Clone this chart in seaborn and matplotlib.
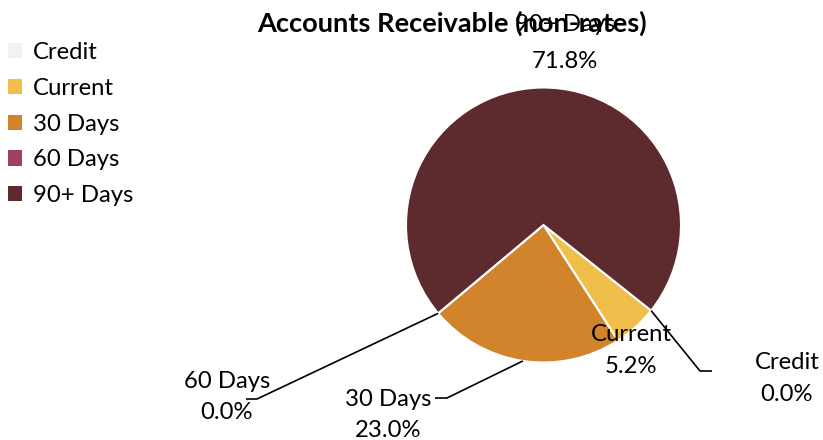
import matplotlib
matplotlib.use("Agg")
import matplotlib.pyplot as plt
import seaborn as sns
import numpy as np
from matplotlib.patches import Patch

# ---- data ----
categories = ["Credit", "Current", "30 Days", "60 Days", "90+ Days"]
values = [0.0, 5.2, 23.0, 0.0, 71.8]
colors = ["#F2F2F2", "#F0BE4B", "#D2842D", "#A0405A", "#5D2A2D"]
title = "Accounts Receivable (non-rates)"

sns.set_theme(style="white")
plt.rcParams['font.family'] = ['Lato', 'DejaVu Sans']
plt.rcParams['text.color'] = 'black'

W, H = 823, 440
fig = plt.figure(figsize=(W / 100, H / 100), dpi=100)
ax = fig.add_axes([0, 0, 1, 1])

cx, cy, r = 543.5, H - 225, 137.5
wedges, _ = ax.pie(values, colors=colors, startangle=-38.5, counterclock=False,
                   center=(cx, cy), radius=r,
                   wedgeprops=dict(edgecolor="white", linewidth=1.5))
ax.set_xlim(0, W)
ax.set_ylim(0, H)
ax.set_aspect("equal")
ax.axis("off")

FS = 17.2
total = sum(values)
pct = [f"{v / total * 100:.1f}%" for v in values]

def edge_point(theta_deg):
    t = np.deg2rad(theta_deg)
    return cx + r * np.cos(t), cy + r * np.sin(t)

def mid(w):
    return (w.theta1 + w.theta2) / 2

# label specs: (index, x center, baseline y1 (from top), baseline y2, leader)
labels = [
    (4, 565, 31, 68, None),
    (1, 631, 341, 373, None),
    (0, 787, 369, 401, (wedges[0].theta1, (700, 371), (712, 371))),
    (3, 227, 388, 419, (wedges[3].theta1, (257, 399), (246, 399))),
    (2, 388, 406, 437, (mid(wedges[2]), (447, 398), (435, 398))),
]
for idx, x, b1, b2, lead in labels:
    ax.text(x, H - b1, categories[idx], ha="center", va="baseline", fontsize=FS, color="black")
    ax.text(x, H - b2, pct[idx], ha="center", va="baseline", fontsize=FS, color="black")
    if lead is not None:
        ang, elbow, end = lead
        p = edge_point(ang)
        ax.plot([p[0], elbow[0], end[0]], [p[1], H - elbow[1], H - end[1]],
                color="black", lw=1.2, solid_capstyle="butt")

ax.text(452, H - 32, title, ha="center", va="baseline", fontsize=19.6, fontweight="bold", color="black")

handles = [Patch(facecolor=c, edgecolor="none") for c in colors]
leg = ax.legend(handles, categories, loc="upper left", bbox_to_anchor=(8 / W, 1 - 42 / H),
                bbox_transform=fig.transFigure, frameon=False, fontsize=FS,
                handlelength=0.6, handleheight=0.6, handletextpad=0.45,
                labelspacing=0.62, borderpad=0, borderaxespad=0, labelcolor="black")

fig.savefig("out.png", dpi=100)
